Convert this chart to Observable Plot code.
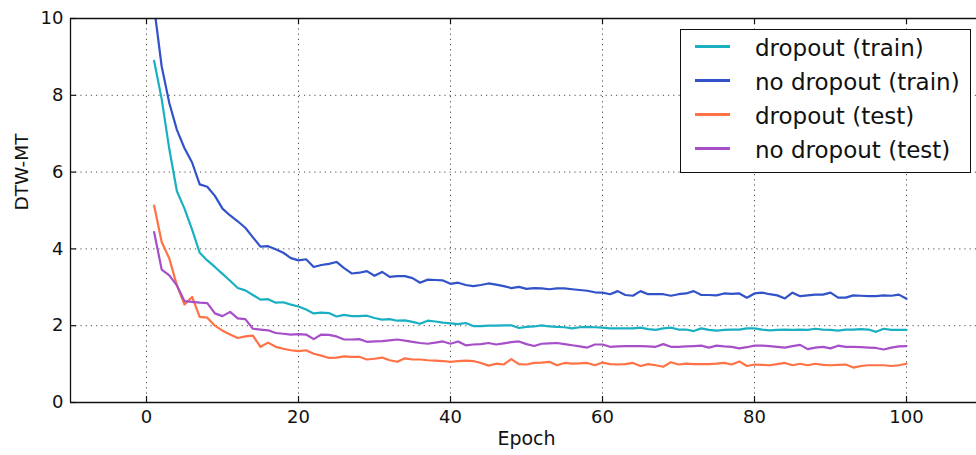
<!DOCTYPE html>
<html>
<head>
<meta charset="utf-8">
<script src="https://cdn.jsdelivr.net/npm/d3@7"></script>
<script src="https://cdn.jsdelivr.net/npm/@observablehq/plot@0.6"></script>
<style>
  html, body { margin: 0; padding: 0; background: #fff; overflow: hidden; }
  #wrap { position: relative; width: 976px; height: 455px; }
  #legend {
    position: absolute; left: 680px; top: 28.5px; width: 291px; height: 144px;
    box-sizing: border-box; border: 1.4px solid #111; background: #fff;
    padding-top: 0px; font-family: "DejaVu Sans", sans-serif; font-size: 23px; color: #111;
  }
  .row { display: flex; align-items: center; height: 34px; }
  .swatch { width: 35px; height: 2.5px; margin-left: 14px; margin-right: 25px; }
  .row span { line-height: 34px; padding-top: 2px; }
</style>
</head>
<body>
<div id="wrap"></div>
<script>
// Series names and colours
const seriesNames = ["dropout (train)", "no dropout (train)", "dropout (test)", "no dropout (test)"];
const seriesColors = ["#1ab0c2", "#3152c9", "#ff7245", "#a64fc8"];

// Axis ticks
const xTicks = [0, 20, 40, 60, 80, 100];
const yTicks = [0, 2, 4, 6, 8, 10];

// DTW-MT per epoch (epochs 1..100)
const dropoutTrain = [
  8.9, 7.9, 6.6, 5.5, 5.05, 4.5, 3.9, 3.7, 3.53, 3.35,
  3.17, 2.98, 2.92, 2.8, 2.68, 2.69, 2.6, 2.61, 2.55, 2.5,
  2.42, 2.32, 2.34, 2.33, 2.24, 2.28, 2.25, 2.25, 2.26, 2.2,
  2.16, 2.17, 2.13, 2.14, 2.1, 2.05, 2.13, 2.11, 2.08, 2.06,
  2.04, 2.07, 1.99, 1.99, 2.0, 2.0, 2.01, 2.01, 1.94, 1.97,
  1.98, 2.01, 1.98, 1.97, 1.96, 1.93, 1.96, 1.97, 1.96, 1.95,
  1.93, 1.93, 1.93, 1.93, 1.95, 1.91, 1.89, 1.93, 1.95, 1.9,
  1.9, 1.86, 1.93, 1.89, 1.87, 1.89, 1.9, 1.9, 1.93, 1.93,
  1.9, 1.88, 1.89, 1.9, 1.89, 1.9, 1.89, 1.92, 1.9, 1.89,
  1.87, 1.9, 1.9, 1.91, 1.9, 1.84, 1.92, 1.89, 1.89, 1.89
];
const noDropoutTrain = [
  10.3, 8.75, 7.8, 7.1, 6.62, 6.25, 5.68, 5.62, 5.38, 5.05,
  4.87, 4.72, 4.55, 4.3, 4.06, 4.07, 3.99, 3.9, 3.76, 3.7,
  3.73, 3.53, 3.58, 3.61, 3.66, 3.5, 3.36, 3.38, 3.42, 3.3,
  3.4, 3.27, 3.29, 3.29, 3.24, 3.12, 3.2, 3.19, 3.18, 3.09,
  3.12, 3.06, 3.03, 3.06, 3.1, 3.07, 3.03, 2.98, 3.01, 2.96,
  2.98, 2.97, 2.95, 2.97, 2.97, 2.95, 2.93, 2.91, 2.87, 2.86,
  2.82, 2.9, 2.8, 2.78, 2.9, 2.82, 2.82, 2.82, 2.78, 2.82,
  2.84, 2.9, 2.8, 2.8, 2.79, 2.84, 2.83, 2.84, 2.73, 2.84,
  2.86, 2.82, 2.79, 2.71, 2.86, 2.77, 2.79, 2.81, 2.81, 2.86,
  2.73, 2.73, 2.79, 2.78, 2.77, 2.77, 2.79, 2.78, 2.81, 2.7
];
const dropoutTest = [
  5.13, 4.18, 3.75, 3.05, 2.55, 2.75, 2.23, 2.21, 2.0, 1.87,
  1.77, 1.68, 1.72, 1.74, 1.45, 1.56, 1.45, 1.4, 1.36, 1.34,
  1.36, 1.27, 1.22, 1.16, 1.17, 1.2, 1.19, 1.19, 1.12, 1.14,
  1.17, 1.1, 1.06, 1.15, 1.12, 1.12, 1.1, 1.09, 1.08, 1.06,
  1.08, 1.09, 1.08, 1.03, 0.96, 1.01, 0.99, 1.13, 1.0, 0.99,
  1.03, 1.04, 1.06, 0.97, 1.03, 1.01, 1.02, 1.03, 0.97, 1.04,
  1.0, 0.99, 1.0, 1.03, 0.95, 1.0, 0.97, 0.93, 1.05, 0.99,
  1.01, 1.0, 1.0, 1.0, 1.01, 1.03, 0.99, 1.07, 0.95, 0.99,
  0.98, 0.97, 1.0, 1.03, 0.97, 1.01, 0.97, 1.01, 0.98, 0.97,
  0.98, 0.99, 0.91, 0.95, 0.97, 0.97, 0.97, 0.95, 0.97, 1.01
];
const noDropoutTest = [
  4.44, 3.46, 3.31, 3.05, 2.64, 2.62, 2.6, 2.59, 2.32, 2.25,
  2.36, 2.19, 2.17, 1.92, 1.9, 1.88, 1.81, 1.79, 1.77, 1.78,
  1.77, 1.65, 1.77, 1.76, 1.72, 1.64, 1.64, 1.65, 1.58, 1.59,
  1.6, 1.62, 1.64, 1.61, 1.58, 1.55, 1.53, 1.56, 1.59, 1.53,
  1.59, 1.49, 1.51, 1.52, 1.55, 1.51, 1.54, 1.57, 1.59, 1.52,
  1.47, 1.53, 1.54, 1.55, 1.52, 1.49, 1.46, 1.43, 1.51, 1.51,
  1.45, 1.46, 1.47, 1.47, 1.47, 1.46, 1.45, 1.52, 1.45, 1.45,
  1.46, 1.47, 1.48, 1.43, 1.48, 1.46, 1.45, 1.41, 1.44, 1.48,
  1.48, 1.47, 1.45, 1.43, 1.47, 1.5, 1.39, 1.43, 1.45, 1.41,
  1.48, 1.45, 1.45, 1.44, 1.43, 1.42, 1.38, 1.43, 1.46, 1.47
];

const seriesValues = [dropoutTrain, noDropoutTrain, dropoutTest, noDropoutTest];
const rows = seriesValues.flatMap((vals, s) =>
  vals.map((v, i) => ({series: seriesNames[s], epoch: i + 1, value: v}))
);

const W = 976, H = 455;
const mT = 18, mB = 53, mL = 70, mR = -6;
const innerH = H - mT - mB, innerW = W - mL - mR;
const tickLen = 6;
const gridStyle = {stroke: "#000", strokeOpacity: 0.7, strokeWidth: 1, strokeDasharray: "1.2,4"};

const chart = Plot.plot({
  width: W, height: H,
  marginTop: mT, marginBottom: mB, marginLeft: mL, marginRight: mR,
  style: {fontFamily: "DejaVu Sans, sans-serif", fontSize: "18px", color: "#111", background: "#fff"},
  x: {domain: [-10, 110], ticks: xTicks, label: null},
  y: {domain: [0, 10], ticks: yTicks, label: null},
  color: {domain: seriesNames, range: seriesColors},
  marks: [
    // dotted grid
    Plot.ruleX(xTicks, {x: d => d, ...gridStyle}),
    Plot.ruleY(yTicks.filter(d => d > 0 && d < 10), {y: d => d, ...gridStyle}),
    // curves
    Plot.line(rows, {x: "epoch", y: "value", z: "series", stroke: "series", strokeWidth: 2.2, clip: true}),
    // axes frame (left, top, bottom)
    Plot.ruleX([-10], {x: d => d, stroke: "#111", strokeWidth: 1.3}),
    Plot.ruleY([0, 10], {y: d => d, stroke: "#111", strokeWidth: 1.3}),
    // inward ticks
    Plot.tickX(xTicks, {x: d => d, insetTop: innerH - tickLen, stroke: "#111", strokeWidth: 1.2}),
    Plot.tickX(xTicks, {x: d => d, insetBottom: innerH - tickLen, stroke: "#111", strokeWidth: 1.2}),
    Plot.tickY(yTicks, {y: d => d, insetRight: innerW - tickLen, stroke: "#111", strokeWidth: 1.2}),
    // tick labels
    Plot.axisX(xTicks, {tickSize: 0, tickPadding: 8, label: null}),
    Plot.axisY(yTicks, {tickSize: 0, tickPadding: 7, label: null}),
    // axis titles
    Plot.text(["Epoch"], {frameAnchor: "bottom", dy: 42, fontSize: 19, fill: "#111"}),
    Plot.text(["DTW-MT"], {frameAnchor: "left", dx: -48, rotate: -90, fontSize: 18.5, fill: "#111"})
  ]
});

const wrap = document.getElementById("wrap");
wrap.appendChild(chart);

// legend box
const legend = document.createElement("div");
legend.id = "legend";
seriesNames.forEach((name, i) => {
  const row = document.createElement("div");
  row.className = "row";
  const sw = document.createElement("div");
  sw.className = "swatch";
  sw.style.background = seriesColors[i];
  const label = document.createElement("span");
  label.textContent = name;
  row.appendChild(sw);
  row.appendChild(label);
  legend.appendChild(row);
});
wrap.appendChild(legend);
</script>
</body>
</html>
